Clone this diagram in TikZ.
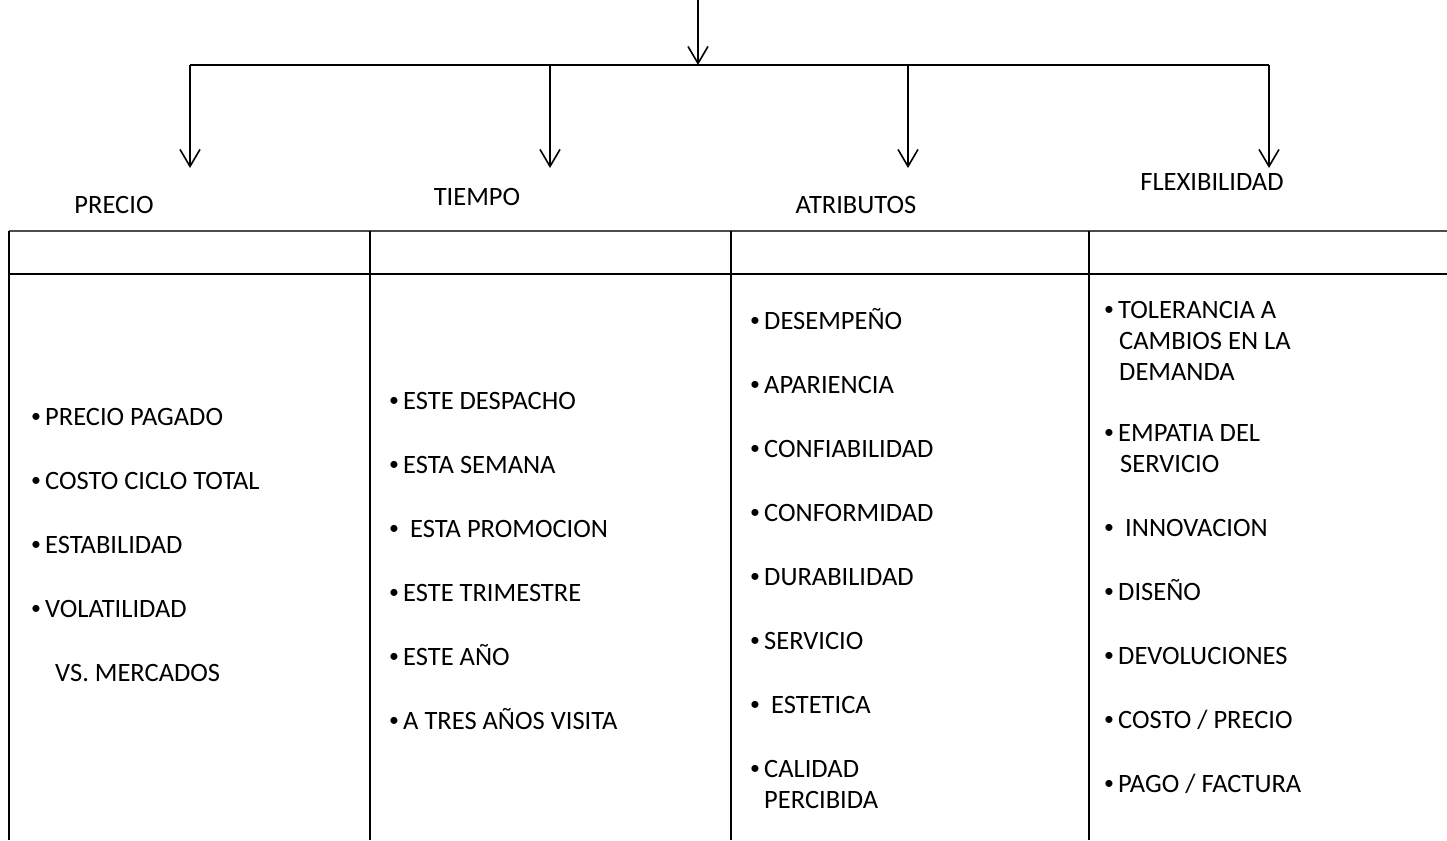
\documentclass[tikz,border=0pt]{standalone}
\usepackage{fontspec}
\setmainfont{Carlito}
\usetikzlibrary{arrows.meta}

\newcommand\bul{\makebox[14pt][l]{\raisebox{3.5pt}{\scalebox{0.75}{•}}}}

\begin{document}
\begin{tikzpicture}[x=1pt,y=-1pt,
    lbl/.style={inner sep=0pt,font=\fontsize{26.5}{31}\selectfont},
    item/.style={lbl,anchor=base west},
    conn/.style={line width=1.6pt},
    drop/.style={conn,-{Straight Barb[length=17pt,width=20pt]}},
    grid/.style={line width=2.6pt}]
  \useasboundingbox (0,0) rectangle (1447,840);
  % tree of arrows
  \coordinate (src) at (698,0);
  \coordinate (hub) at (698,65);
  \coordinate (b1) at (190,65);
  \coordinate (b2) at (550,65);
  \coordinate (b3) at (908,65);
  \coordinate (b4) at (1269,65);
  \coordinate (tip1) at (190,168);
  \coordinate (tip2) at (550,168);
  \coordinate (tip3) at (908,168);
  \coordinate (tip4) at (1269,168);
  \draw[drop] (src) -- (hub);
  \draw[line width=2pt] (b1) -- (b4);
  \draw[drop] (b1) -- (tip1);
  \draw[drop] (b2) -- (tip2);
  \draw[drop] (b3) -- (tip3);
  \draw[drop] (b4) -- (tip4);
  % headings
  \node[lbl] (precio) at (114,205) {PRECIO};
  \node[lbl] (tiempo) at (477,197) {TIEMPO};
  \node[lbl] (atrib) at (856,205) {ATRIBUTOS};
  \node[lbl] (flex) at (1212,182) {FLEXIBILIDAD};
  % table
  \draw[line width=2pt,black!70] (9,231) -- (1447,231);
  \draw[grid] (9,274) -- (1447,274);
  \foreach \x in {9,370,731,1089}
    \draw[grid] (\x,231) -- (\x,840);
  % precio
  \foreach \t [count=\i] in {PRECIO PAGADO,COSTO CICLO TOTAL,ESTABILIDAD,VOLATILIDAD}
    \node[item] (pre\i) at (31,{425.5+64*(\i-1)}) {\bul\t};
  \node[item] (pre5) at (55,681.5) {VS. MERCADOS};
  % tiempo
  \foreach \t [count=\i] in {ESTE DESPACHO,ESTA SEMANA,{\hspace{7pt}ESTA PROMOCION},ESTE TRIMESTRE,ESTE AÑO,A TRES AÑOS VISITA}
    \node[item] (tie\i) at (389,{409.5+64*(\i-1)}) {\bul\t};
  % atributos
  \foreach \t [count=\i] in {DESEMPEÑO,APARIENCIA,CONFIABILIDAD,CONFORMIDAD,DURABILIDAD,SERVICIO,{\hspace{7pt}ESTETICA},CALIDAD}
    \node[item] (atr\i) at (750,{329.5+64*(\i-1)}) {\bul\t};
  \node[item] (atr9) at (764,808.5) {PERCIBIDA};
  % flexibilidad
  \node[item] (flx1) at (1104,318.5) {\bul TOLERANCIA A};
  \node[item] (flx1b) at (1119,349.5) {CAMBIOS EN LA};
  \node[item] (flx1c) at (1119,380.5) {DEMANDA};
  \node[item] (flx2) at (1104,441.5) {\bul EMPATIA DEL};
  \node[item] (flx2b) at (1120,472.5) {SERVICIO};
  \foreach \t [count=\i from 3] in {{\hspace{7pt}INNOVACION},DISEÑO,DEVOLUCIONES,COSTO / PRECIO,PAGO / FACTURA}
    \node[item] (flx\i) at (1104,{536.5+64*(\i-3)}) {\bul\t};
\end{tikzpicture}
\end{document}
